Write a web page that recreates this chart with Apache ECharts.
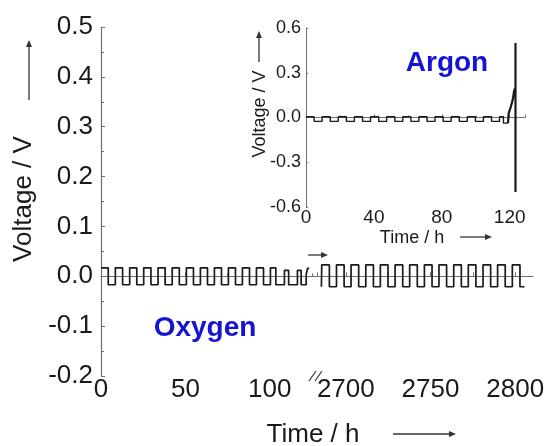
<!DOCTYPE html>
<html>
<head>
<meta charset="utf-8">
<script src="https://cdn.jsdelivr.net/npm/echarts@6.0.0/dist/echarts.min.js"></script>
<style>
  html, body { margin: 0; padding: 0; background: #fff; }
  #main { width: 550px; height: 446px; }
</style>
</head>
<body>
<div id="main"></div>
<script>
// 氧气气氛下的循环 (0 ~ 125 h), [时间 h, 电压 V]
var oxygenEarly = [
  [0, 0.017], [4.3, -0.017], [8.5, 0.017], [12.8, -0.017], [17.0, 0.017], [21.2, -0.017],
  [25.3, 0.017], [29.6, -0.017], [33.8, 0.017], [38.0, -0.017], [42.2, 0.017], [46.4, -0.017],
  [50.6, 0.017], [54.8, -0.017], [58.9, 0.017], [63.1, -0.017], [67.2, 0.017], [71.4, -0.017],
  [75.5, 0.017], [79.7, -0.017], [83.8, 0.017], [88.0, -0.017], [92.1, 0.017], [96.3, -0.017],
  [100.4, 0.017], [103.6, -0.017], [108.7, 0.012], [111.2, -0.017], [116.4, 0.012], [118.6, -0.017],
  [121.6, 0.004], [122.4, 0.016], [123.4, 0.016]
];

// 氧气气氛下的循环 (2685 ~ 2805 h)
var oxygenLate = [
  [2685.6, -0.021], [2685.8, 0.023], [2690.3, -0.021], [2694.5, 0.023], [2699.0, -0.021],
  [2703.1, 0.023], [2707.6, -0.021], [2711.8, 0.023], [2716.3, -0.021], [2720.4, 0.023],
  [2724.9, -0.021], [2729.1, 0.023], [2733.6, -0.021], [2737.7, 0.023], [2742.2, -0.021],
  [2746.4, 0.023], [2750.9, -0.021], [2755.0, 0.023], [2759.5, -0.021], [2763.7, 0.023],
  [2768.2, -0.021], [2772.3, 0.023], [2776.8, -0.021], [2781.0, 0.023], [2785.5, -0.021],
  [2789.6, 0.023], [2794.1, -0.021], [2798.3, 0.023], [2802.8, -0.021], [2805.5, -0.021]
];

// 氩气气氛 (插图)
var argonCycles = [
  [0, 0.005], [4.8, -0.026], [9.5, 0.005], [14.3, -0.026], [19.0, 0.005], [23.8, -0.026],
  [28.5, 0.005], [33.3, -0.026], [38.0, 0.005], [42.8, -0.026], [47.5, 0.005], [52.3, -0.026],
  [57.0, 0.005], [61.8, -0.026], [66.5, 0.005], [71.3, -0.026], [76.0, 0.005], [80.8, -0.026],
  [85.5, 0.005], [90.3, -0.026], [95.0, 0.005], [99.8, -0.026], [104.5, 0.005], [109.3, -0.026],
  [114.0, 0.005], [116.3, -0.038], [119.0, -0.038]
];
var argonFailure = [
  [119.0, -0.038], [119.4, 0.03], [120.6, 0.07], [121.8, 0.12], [122.6, 0.18],
  [123.4, 0.2], [123.4, 0.5], [123.4, -0.5]
];

// 刻度标签
var mainYTicks = [-0.2, -0.1, 0.0, 0.1, 0.2, 0.3, 0.4, 0.5];
var lateXLabels = [2700, 2750, 2800];
var lateXTicks = [2700, 2725, 2750, 2775, 2800];

var FONT = '"Liberation Sans", Arial, sans-serif';
var AXIS = '#707070';
var INK = '#1a1a1a';
var BLUE = '#1414d2';

var myChart = echarts.init(document.getElementById('main'));

function arrow(x1, y1, x2, y2) {
  // 画一个带箭头的细线
  var dx = x2 - x1, dy = y2 - y1;
  var len = Math.sqrt(dx * dx + dy * dy);
  var ux = dx / len, uy = dy / len;
  var bx = x2 - ux * 7, by = y2 - uy * 7;
  return [
    { type: 'line', shape: { x1: x1, y1: y1, x2: bx, y2: by }, style: { stroke: '#333', lineWidth: 1.3 }, z: 10 },
    { type: 'polygon', shape: { points: [[x2, y2], [bx - uy * 3, by + ux * 3], [bx + uy * 3, by - ux * 3]] }, style: { fill: '#333' }, z: 10 }
  ];
}

function text(str, x, y, size, opts) {
  opts = opts || {};
  return {
    type: 'text', x: x, y: y, rotation: opts.rotation || 0, z: 10,
    style: {
      text: str, fill: opts.color || INK, font: (opts.bold ? 'bold ' : '') + size + 'px ' + FONT,
      align: 'center', verticalAlign: 'middle'
    }
  };
}

var tickLabel = function (size, margin) {
  return { color: INK, fontSize: size, fontFamily: FONT, margin: margin };
};

var plain = function (v) { return String(v); };

var option = {
  animation: false,
  grid: [
    { left: 101, top: 27, width: 216, height: 349 },
    { left: 317, top: 27, width: 216, height: 349 },
    { left: 306, top: 28, width: 219, height: 179 }
  ],
  xAxis: [
    {
      gridIndex: 0, type: 'value', min: 0, max: 128, interval: 50,
      splitLine: { show: false },
      axisLine: { lineStyle: { color: AXIS, width: 1.2 } },
      axisTick: { inside: true, length: 4, lineStyle: { color: AXIS } },
      minorTick: { show: true, splitNumber: 2, length: 3, lineStyle: { color: AXIS } },
      axisLabel: Object.assign(tickLabel(26, 1), { showMaxLabel: false, formatter: plain })
    },
    {
      gridIndex: 1, type: 'value', min: 2683, max: 2810.5,
      splitLine: { show: false },
      axisLine: { lineStyle: { color: AXIS, width: 1.2 } },
      axisTick: { inside: true, length: 4, lineStyle: { color: AXIS }, customValues: lateXTicks },
      axisLabel: Object.assign(tickLabel(26, 1), { customValues: lateXLabels, formatter: plain })
    },
    {
      gridIndex: 2, type: 'value', min: 0, max: 129, interval: 40,
      splitLine: { show: false },
      axisLine: { lineStyle: { color: AXIS, width: 1 } },
      axisTick: { inside: true, length: 3, lineStyle: { color: AXIS } },
      minorTick: { show: true, splitNumber: 2, length: 2, lineStyle: { color: AXIS } },
      axisLabel: Object.assign(tickLabel(19, 1), { showMaxLabel: false, formatter: plain })
    }
  ],
  yAxis: [
    {
      gridIndex: 0, type: 'value', min: -0.2, max: 0.5, interval: 0.1,
      splitLine: { show: false },
      axisLine: { show: true, lineStyle: { color: AXIS, width: 1.2 } },
      axisTick: { inside: true, length: 4, lineStyle: { color: AXIS } },
      minorTick: { show: true, splitNumber: 2, length: 3, lineStyle: { color: AXIS } },
      axisLabel: Object.assign(tickLabel(26, 8), {
        formatter: function (v) {
          var hit = mainYTicks.find(function (t) { return Math.abs(t - v) < 1e-6; });
          return hit === undefined ? '' : hit.toFixed(1);
        }
      })
    },
    { gridIndex: 1, type: 'value', min: -0.2, max: 0.5, show: false },
    {
      gridIndex: 2, type: 'value', min: -0.6, max: 0.6, interval: 0.3,
      splitLine: { show: false },
      axisLine: { show: true, lineStyle: { color: AXIS, width: 1 } },
      axisTick: { inside: true, length: 2, lineStyle: { color: AXIS } },
      axisLabel: Object.assign(tickLabel(18, 5), {
        formatter: function (v) { return v.toFixed(1); }
      })
    }
  ],
  series: [
    {
      name: 'oxygen-early', type: 'line', xAxisIndex: 0, yAxisIndex: 0, step: 'end',
      showSymbol: false, data: oxygenEarly, lineStyle: { color: INK, width: 1.7 }
    },
    {
      name: 'oxygen-late', type: 'line', xAxisIndex: 1, yAxisIndex: 1, step: 'end',
      showSymbol: false, data: oxygenLate, lineStyle: { color: INK, width: 1.7 }
    },
    {
      name: 'argon', type: 'line', xAxisIndex: 2, yAxisIndex: 2, step: 'end',
      showSymbol: false, data: argonCycles, lineStyle: { color: INK, width: 1.4 }
    },
    {
      name: 'argon-failure', type: 'line', xAxisIndex: 2, yAxisIndex: 2,
      showSymbol: false, data: argonFailure, lineStyle: { color: INK, width: 2.2 }
    }
  ],
  graphic: [].concat(
    // 主图坐标轴名称
    text('Voltage / V', 24, 199, 26, { rotation: Math.PI / 2 }),
    arrow(29, 100, 29, 40),
    text('Time / h', 313, 435, 26),
    arrow(393, 434, 456, 434),
    // 断轴标记
    { type: 'line', shape: { x1: 309, y1: 381, x2: 316, y2: 371 }, style: { stroke: '#333', lineWidth: 1.2 }, z: 10 },
    { type: 'line', shape: { x1: 315, y1: 381, x2: 322, y2: 371 }, style: { stroke: '#333', lineWidth: 1.2 }, z: 10 },
    arrow(308, 255, 328, 255),
    // 插图坐标轴名称
    text('Voltage / V', 260, 114, 18, { rotation: Math.PI / 2 }),
    arrow(259, 62, 259, 31),
    text('Time / h', 412, 238, 18),
    arrow(460, 237, 492, 237),
    // 气氛标注
    text('Oxygen', 205, 328, 28, { bold: true, color: BLUE }),
    text('Argon', 447, 63, 28, { bold: true, color: BLUE })
  )
};

myChart.setOption(option);
</script>
</body>
</html>
